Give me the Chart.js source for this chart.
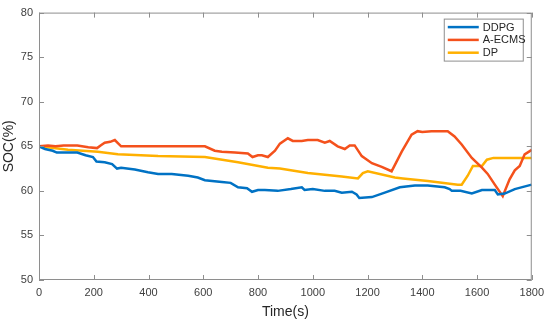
<!DOCTYPE html>
<html>
<head>
<meta charset="utf-8">
<script src="https://cdn.jsdelivr.net/npm/chart.js@4.4.1/dist/chart.umd.min.js"></script>
<style>
  html, body { margin: 0; padding: 0; background: #fff; }
  #wrap { width: 550px; height: 321px; }
</style>
</head>
<body>
<div id="wrap"><canvas id="socChart"></canvas></div>
<script>
/* datos */
const seriesNames = ['DDPG', 'A-ECMS', 'DP'];
const yTicks = [50, 55, 60, 65, 70, 75, 80];
const xTicks = [0, 200, 400, 600, 800, 1000, 1200, 1400, 1600, 1800];

const timeDdpg = [0, 22, 50, 65, 140, 170, 197, 210, 240, 267, 285, 300, 350, 398, 435, 485, 545, 580, 606, 668, 700, 727, 760, 778, 800, 825, 872, 920, 960, 970, 1000, 1044, 1080, 1106, 1143, 1160, 1170, 1216, 1263, 1318, 1373, 1420, 1482, 1500, 1508, 1540, 1581, 1618, 1665, 1676, 1701, 1738, 1800];
const socDdpg = [65.0, 64.7, 64.5, 64.3, 64.3, 64.0, 63.8, 63.3, 63.2, 63.0, 62.5, 62.6, 62.4, 62.1, 61.9, 61.9, 61.7, 61.5, 61.2, 61.0, 60.9, 60.4, 60.3, 59.9, 60.1, 60.1, 60.0, 60.2, 60.4, 60.1, 60.2, 60.0, 60.0, 59.8, 59.9, 59.6, 59.2, 59.3, 59.8, 60.4, 60.6, 60.6, 60.4, 60.2, 60.0, 60.0, 59.7, 60.1, 60.1, 59.6, 59.7, 60.2, 60.7];

const timeEcms = [0, 33, 60, 90, 140, 180, 212, 225, 240, 260, 277, 290, 300, 400, 500, 606, 642, 668, 716, 763, 780, 800, 814, 836, 862, 880, 909, 927, 960, 982, 1018, 1044, 1062, 1091, 1117, 1135, 1153, 1179, 1216, 1252, 1288, 1325, 1361, 1383, 1400, 1434, 1493, 1518, 1544, 1581, 1618, 1639, 1665, 1694, 1719, 1738, 1756, 1774, 1800];
const socEcms = [65.0, 65.1, 65.0, 65.1, 65.1, 64.9, 64.8, 65.1, 65.4, 65.5, 65.7, 65.3, 65.0, 65.0, 65.0, 65.0, 64.5, 64.4, 64.3, 64.2, 63.8, 64.0, 64.0, 63.8, 64.5, 65.3, 65.9, 65.6, 65.6, 65.7, 65.7, 65.4, 65.6, 65.0, 64.7, 65.1, 65.1, 63.9, 63.1, 62.7, 62.2, 64.4, 66.3, 66.7, 66.6, 66.7, 66.7, 66.1, 65.2, 63.7, 62.6, 61.9, 60.7, 59.4, 61.3, 62.3, 62.8, 64.1, 64.6];

const timeDp = [0, 106, 215, 288, 435, 606, 727, 836, 880, 982, 1106, 1165, 1183, 1201, 1300, 1329, 1420, 1530, 1544, 1566, 1585, 1618, 1636, 1660, 1800];
const socDp = [65.0, 64.6, 64.4, 64.1, 63.9, 63.8, 63.2, 62.6, 62.5, 62.0, 61.6, 61.4, 62.0, 62.2, 61.5, 61.4, 61.1, 60.7, 60.7, 61.7, 62.8, 62.8, 63.5, 63.7, 63.7];

const colors = ['#0072C4', '#F4511C', '#FFB000'];
const frameColor = '#8e8e8e';
const fontFamily = '"Liberation Sans", Arial, sans-serif';

function toPoints(xs, ys) {
    return xs.map((t, i) => ({ x: t, y: ys[i] }));
}

// marco tipo matlab con ticks hacia adentro
const framePlugin = {
    id: 'frame',
    afterDraw(chart) {
        const { ctx, chartArea, scales } = chart;
        const { left, right, top, bottom } = chartArea;
        ctx.save();
        ctx.strokeStyle = frameColor;
        ctx.lineWidth = 1;
        ctx.strokeRect(left + 0.5, top + 0.5, right - left - 1, bottom - top - 1);
        ctx.beginPath();
        xTicks.forEach(v => {
            const px = Math.round(scales.x.getPixelForValue(v)) + 0.5;
            ctx.moveTo(px, bottom); ctx.lineTo(px, bottom - 5);
            ctx.moveTo(px, top); ctx.lineTo(px, top + 5);
        });
        yTicks.forEach(v => {
            const py = Math.round(scales.y.getPixelForValue(v)) + 0.5;
            ctx.moveTo(left, py); ctx.lineTo(left + 5, py);
            ctx.moveTo(right, py); ctx.lineTo(right - 5, py);
        });
        ctx.stroke();
        ctx.restore();
    }
};

// leyenda dentro del area del grafico
const insideLegend = {
    id: 'insideLegend',
    afterDatasetsDraw(chart) {
        const { ctx, chartArea } = chart;
        const boxW = 79, boxH = 42;
        const bx = chartArea.right - 9 - boxW;
        const by = chartArea.top + 6;
        ctx.save();
        ctx.fillStyle = '#fff';
        ctx.fillRect(bx, by, boxW, boxH);
        ctx.strokeStyle = frameColor;
        ctx.lineWidth = 1;
        ctx.strokeRect(bx + 0.5, by + 0.5, boxW, boxH);
        ctx.font = '11px ' + fontFamily;
        ctx.textBaseline = 'middle';
        chart.data.datasets.forEach((ds, i) => {
            const cy = by + 8.5 + i * 12.8;
            ctx.strokeStyle = ds.borderColor;
            ctx.lineWidth = 2.5;
            ctx.beginPath();
            ctx.moveTo(bx + 4, cy); ctx.lineTo(bx + 35, cy);
            ctx.stroke();
            ctx.fillStyle = '#262626';
            ctx.fillText(ds.label, bx + 39, cy + 0.5);
        });
        ctx.restore();
    }
};

const ctx = document.getElementById('socChart').getContext('2d');
new Chart(ctx, {
    type: 'line',
    data: {
        datasets: [
            { label: seriesNames[0], data: toPoints(timeDdpg, socDdpg), borderColor: colors[0] },
            { label: seriesNames[1], data: toPoints(timeEcms, socEcms), borderColor: colors[1] },
            { label: seriesNames[2], data: toPoints(timeDp, socDp), borderColor: colors[2] }
        ]
    },
    options: {
        responsive: true,
        maintainAspectRatio: false,
        animation: false,
        parsing: false,
        layout: { padding: { top: 10, right: 18, left: 0, bottom: 0 } },
        elements: {
            point: { radius: 0 },
            line: { borderWidth: 2.5, tension: 0, fill: false }
        },
        plugins: {
            legend: { display: false },
            tooltip: { enabled: false }
        },
        scales: {
            x: {
                type: 'linear',
                min: 0,
                max: 1800,
                afterFit(scale) { scale.height = 41; },
                afterBuildTicks(scale) { scale.ticks = xTicks.map(v => ({ value: v })); },
                grid: { display: false, drawTicks: false },
                border: { display: false },
                ticks: {
                    color: '#404040',
                    padding: 6,
                    maxRotation: 0,
                    callback: v => String(v),
                    font: { family: fontFamily, size: 11 }
                },
                title: {
                    display: true,
                    text: 'Time(s)',
                    color: '#262626',
                    padding: { top: 3, bottom: 0 },
                    font: { family: fontFamily, size: 14 }
                }
            },
            y: {
                min: 50,
                max: 80,
                afterFit(scale) { scale.width = 39; },
                afterBuildTicks(scale) { scale.ticks = yTicks.map(v => ({ value: v })); },
                grid: { display: false, drawTicks: false },
                border: { display: false },
                ticks: {
                    color: '#404040',
                    padding: 6,
                    callback: v => String(v),
                    font: { family: fontFamily, size: 11 }
                },
                title: {
                    display: true,
                    text: 'SOC(%)',
                    color: '#262626',
                    padding: { top: 1, bottom: 0 },
                    font: { family: fontFamily, size: 14 }
                }
            }
        }
    },
    plugins: [framePlugin, insideLegend]
});
</script>
</body>
</html>
